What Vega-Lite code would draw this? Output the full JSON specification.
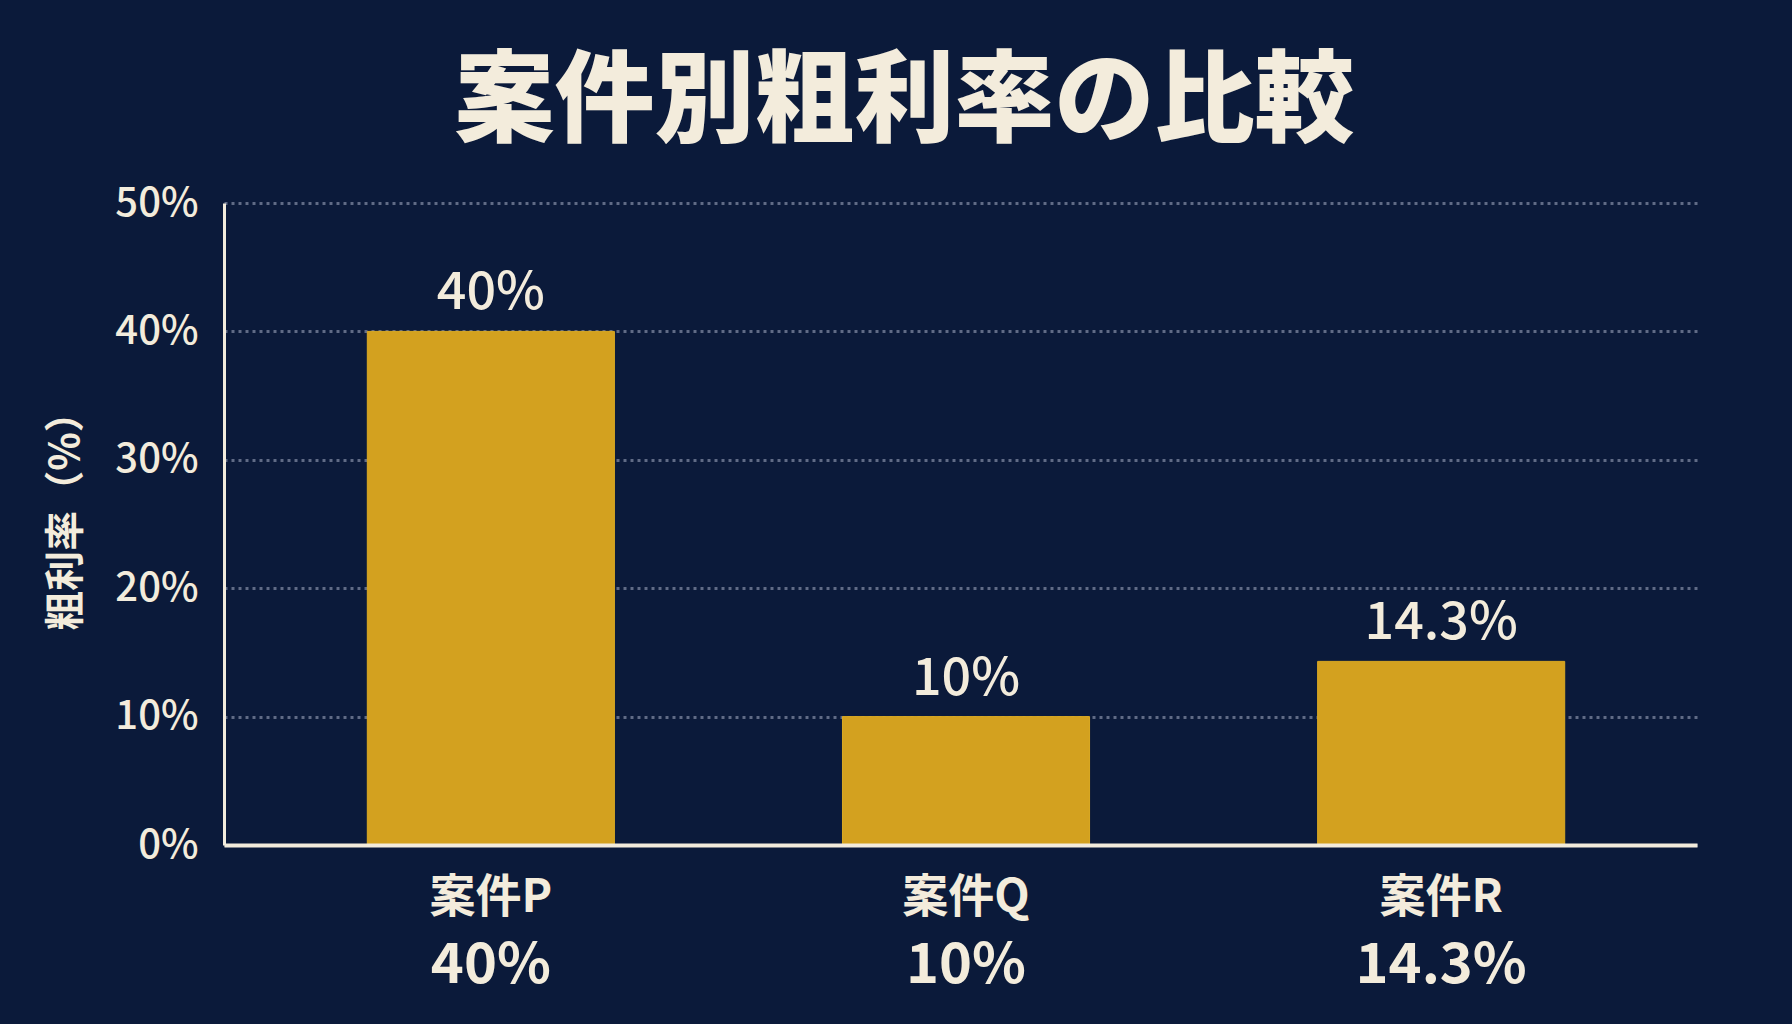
{
  "$schema": "https://vega.github.io/schema/vega-lite/v6.json",
  "autosize": {"type": "none"},
  "width": 1473,
  "height": 642,
  "padding": {"left": 224, "top": 203, "right": 95, "bottom": 179},
  "background": "#0b1a3a",
  "config": {
    "font": "Noto Sans CJK JP",
    "view": {"stroke": null}
  },
  "title": {
    "text": "案件別粗利率の比較",
    "fontSize": 100,
    "fontWeight": 900,
    "color": "#f3ecdc",
    "anchor": "middle",
    "frame": "group",
    "dx": -56,
    "offset": 28
  },
  "data": {
    "values": [
      {"project": "案件P", "rate": 40, "label": "40%"},
      {"project": "案件Q", "rate": 10, "label": "10%"},
      {"project": "案件R", "rate": 14.3, "label": "14.3%"}
    ]
  },
  "encoding": {
    "x": {
      "field": "project",
      "type": "nominal",
      "sort": null,
      "scale": {"paddingInner": 0.48, "paddingOuter": 0.29, "align": 0.52},
      "axis": {
        "title": null,
        "labelAngle": 0,
        "labelFontSize": 46,
        "labelFontWeight": "bold",
        "labelColor": "#f3ecdc",
        "labelPadding": 30,
        "ticks": false,
        "grid": false,
        "domainColor": "#f3ecdc",
        "domainWidth": 4,
        "zindex": 1
      }
    }
  },
  "layer": [
    {
      "mark": {"type": "bar", "color": "#d3a11f", "stroke": "#dcaa22", "strokeWidth": 1},
      "encoding": {
        "y": {
          "field": "rate",
          "type": "quantitative",
          "scale": {"domain": [0, 50], "nice": false},
          "axis": {
            "values": [0, 10, 20, 30, 40, 50],
            "labelExpr": "datum.value + '%'",
            "labelFontSize": 40,
            "labelFontWeight": 500,
            "labelColor": "#f3ecdc",
            "labelPadding": 26,
            "ticks": false,
            "domainColor": "#f3ecdc",
            "domainWidth": 3,
            "grid": true,
            "gridColor": "#76809a",
            "gridDash": [3, 4],
            "gridWidth": 3,
            "gridOpacity": 0.8,
            "title": "粗利率（%）",
            "titleFontSize": 40,
            "titleFontWeight": "bold",
            "titleColor": "#f3ecdc",
            "titlePadding": 28,
            "titleY": 308
          }
        }
      }
    },
    {
      "mark": {
        "type": "text",
        "baseline": "alphabetic",
        "dy": -22,
        "fontSize": 52,
        "fontWeight": 500,
        "color": "#f3ecdc"
      },
      "encoding": {
        "y": {"field": "rate", "type": "quantitative"},
        "text": {"field": "label"}
      }
    },
    {
      "mark": {
        "type": "text",
        "baseline": "middle",
        "dy": 121,
        "fontSize": 56,
        "fontWeight": "bold",
        "color": "#f3ecdc",
        "clip": false
      },
      "encoding": {
        "y": {"datum": 0, "type": "quantitative"},
        "text": {"field": "label"}
      }
    }
  ]
}
